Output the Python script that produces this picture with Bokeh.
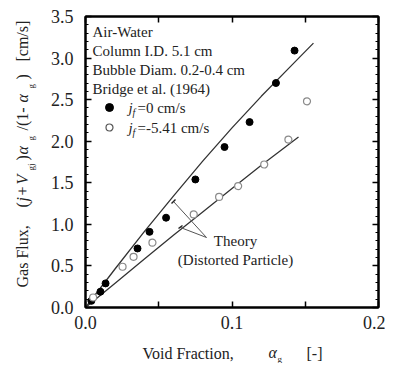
import math
from bokeh.plotting import figure
from bokeh.layouts import column
from bokeh.models import Label, LinearAxis, FixedTicker, Range1d, NumeralTickFormatter
from bokeh.embed import file_html
from bokeh.resources import INLINE

# ---------------- data ----------------
alpha_jf0 = [0.004, 0.0102, 0.0137, 0.0355, 0.0437, 0.0550, 0.0750, 0.0949, 0.1120, 0.1300, 0.1427]
flux_jf0 = [0.08, 0.19, 0.29, 0.71, 0.91, 1.08, 1.54, 1.93, 2.23, 2.70, 3.09]

alpha_jf541 = [0.0052, 0.0253, 0.0328, 0.0457, 0.0739, 0.0912, 0.1042, 0.1220, 0.1385, 0.1512]
flux_jf541 = [0.12, 0.49, 0.61, 0.78, 1.12, 1.33, 1.46, 1.72, 2.02, 2.48]

theory_alpha_jf0 = [0.0, 0.02, 0.04, 0.06, 0.08, 0.10, 0.12, 0.14, 0.1556]
theory_flux_jf0 = [0.0, 0.46, 0.91, 1.34, 1.76, 2.16, 2.54, 2.90, 3.18]

theory_alpha_jf541 = [0.0, 0.02, 0.04, 0.06, 0.08, 0.10, 0.12, 0.1454]
theory_flux_jf541 = [0.0, 0.29, 0.58, 0.87, 1.15, 1.43, 1.71, 2.05]

x_major_ticks = [0.0, 0.1, 0.2]
x_minor_ticks = [0.05, 0.15]
y_major_ticks = [0.0, 0.5, 1.0, 1.5, 2.0, 2.5, 3.0, 3.5]
y_minor_ticks = [round(0.1 * i, 1) for i in range(36) if i % 5 != 0]

# ---------------- layout ----------------
FL, FT, FW, FH = 85, 16, 293, 291          # frame left, top (page px), size
BR, BB = 7, 56
FB = FT + FH
W = FL + FW + BR                            # figure width
H = FT + FH + BB                            # figure height
XMAX, YMAX = 0.2, 3.5
SERIF = "Liberation Serif"


def dx(px):
    return (px - FL) * XMAX / FW


def dy(py):
    return (FB - py) * YMAX / FH


p = figure(frame_width=FW, frame_height=FH,
           x_range=Range1d(0, XMAX), y_range=Range1d(0, YMAX),
           x_axis_type=None, y_axis_type=None,
           output_backend="svg", toolbar_location=None,
           min_border_left=FL, min_border_right=BR,
           min_border_top=FT, min_border_bottom=BB)
p.frame_align = False
p.xgrid.visible = False
p.ygrid.visible = False
p.outline_line_color = "black"
p.outline_line_width = 2
p.background_fill_color = "white"
p.border_fill_color = "white"


def style_axis(ax):
    ax.axis_line_width = 2
    ax.axis_line_color = "black"
    ax.major_tick_in = 6
    ax.major_tick_out = 0
    ax.minor_tick_in = 3
    ax.minor_tick_out = 0
    ax.major_tick_line_width = 1.5
    ax.minor_tick_line_width = 1
    ax.major_label_text_font = SERIF
    ax.major_label_text_font_size = "18px"
    ax.major_label_text_color = "#222222"
    ax.axis_label = None


bx = LinearAxis(ticker=FixedTicker(ticks=x_major_ticks, minor_ticks=x_minor_ticks),
                formatter=NumeralTickFormatter(format="0.0"))
style_axis(bx)
bx.minor_tick_in = 6
bx.minor_tick_line_width = 1.5
bx.major_label_standoff = 8
p.add_layout(bx, "below")

tx = LinearAxis(ticker=FixedTicker(ticks=x_major_ticks, minor_ticks=x_minor_ticks),
                major_label_overrides={t: "" for t in x_major_ticks})
style_axis(tx)
tx.minor_tick_in = 6
tx.minor_tick_line_width = 1.5
tx.major_label_text_font_size = "0px"
tx.major_label_standoff = 0
p.add_layout(tx, "above")

ly = LinearAxis(ticker=FixedTicker(ticks=y_major_ticks, minor_ticks=y_minor_ticks),
                formatter=NumeralTickFormatter(format="0.0"))
style_axis(ly)
ly.major_label_standoff = 12
p.add_layout(ly, "left")

ry = LinearAxis(ticker=FixedTicker(ticks=y_major_ticks, minor_ticks=y_minor_ticks),
                major_label_overrides={t: "" for t in y_major_ticks})
style_axis(ry)
ry.major_label_text_font_size = "0px"
ry.major_label_standoff = 0
p.add_layout(ry, "right")

# ---------------- glyphs ----------------
p.line(theory_alpha_jf0, theory_flux_jf0, line_color="#333333", line_width=1.3)
p.line(theory_alpha_jf541, theory_flux_jf541, line_color="#333333", line_width=1.3)

p.scatter(alpha_jf0, flux_jf0, marker="circle", size=7,
          fill_color="black", line_color="black")
p.scatter(alpha_jf541, flux_jf541, marker="circle", size=7,
          fill_color="white", line_color="#8a8a8a", line_width=1.2)

# legend keys
p.scatter([dx(109)], [dy(107)], marker="circle", size=8, fill_color="black", line_color="black")
p.scatter([dx(109)], [dy(127)], marker="circle", size=7, fill_color="white",
          line_color="#555555", line_width=1.2)

# leader lines for the "Theory" annotation
p.segment(x0=[dx(173), dx(180)], y0=[dy(201), dy(227)],
          x1=[dx(206), dx(206)], y1=[dy(237), dy(237)],
          line_color="#555555", line_width=1)
p.segment(x0=[dx(171), dx(178)], y0=[dy(203), dy(228)],
          x1=[dx(175), dx(182)], y1=[dy(199), dy(225)],
          line_color="#222222", line_width=1.5)

# ---------------- text overlay (page-pixel coordinates, transparent) ----------------
q = figure(frame_width=W, frame_height=H,
           x_range=Range1d(0, W), y_range=Range1d(H, 0),
           x_axis_type=None, y_axis_type=None,
           output_backend="svg", toolbar_location=None,
           min_border_left=0, min_border_right=0, min_border_top=0, min_border_bottom=0,
           styles={"margin-top": f"-{H}px"})
q.frame_align = False
q.xgrid.visible = False
q.ygrid.visible = False
q.outline_line_color = None
q.background_fill_alpha = 0
q.border_fill_alpha = 0


def lab(text, px, py, size=15, style="normal", align="left", angle=0.0, color="#222222"):
    q.add_layout(Label(x=px, y=py, text=text, text_font=SERIF,
                       text_font_size=f"{size}px", text_font_style=style,
                       text_align=align, text_baseline="middle", angle=angle,
                       text_color=color))


# legend text
lab("Air-Water", 92, 31)
lab("Column I.D. 5.1 cm", 92, 50)
lab("Bubble Diam. 0.2-0.4 cm", 92, 69)
lab("Bridge et al. (1964)", 92, 88)
lab("j", 128, 107, style="italic")
lab("f", 132, 112, size=10, style="italic")
lab("=0 cm/s", 137, 107)
lab("j", 128, 127, style="italic")
lab("f", 132, 132, size=10, style="italic")
lab("=-5.41 cm/s", 137, 127)

# annotation
lab("Theory", 235, 240, align="center")
lab("(Distorted Particle)", 235, 259, align="center")

# x axis title
lab("Void Fraction,", 142, 353, size=16)
lab("α", 268, 352, size=16, style="italic")
lab("g", 277, 358, size=9)
lab("[-]", 306, 353, size=16)

# y axis title (rotated)
A = math.pi / 2
lab("Gas Flux,", 22, 287, size=16, angle=A)
lab("(", 22, 207, size=16, angle=A)
lab("j", 22, 201, size=16, style="italic", angle=A)
lab("+", 22, 195, size=16, angle=A)
lab("V", 22, 184, size=16, style="italic", angle=A)
lab("gj", 30, 170, size=9, angle=A)
lab(")", 22, 160, size=16, angle=A)
lab("α", 22, 154, size=16, style="italic", angle=A)
lab("g", 30, 140, size=9, angle=A)
lab("/(1-", 22, 130, size=16, angle=A)
lab("α", 22, 102, size=16, style="italic", angle=A)
lab("g", 30, 88, size=9, angle=A)
lab(")", 22, 79, size=16, angle=A)
lab("[cm/s]", 22, 61, size=16, angle=A)

layout = column(p, q, spacing=0)
open("out.html", "w").write(file_html(layout, INLINE))
